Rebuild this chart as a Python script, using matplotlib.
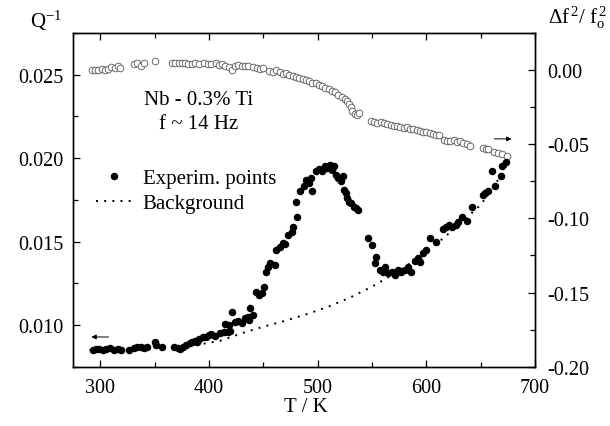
import matplotlib
matplotlib.use('Agg')
import matplotlib.pyplot as plt
from matplotlib.ticker import MultipleLocator, FormatStrFormatter

plt.rcParams['font.family'] = ['Liberation Serif', 'DejaVu Serif']
plt.rcParams['mathtext.fontset'] = 'custom'
plt.rcParams['mathtext.rm'] = 'Liberation Serif'
plt.rcParams['mathtext.it'] = 'Liberation Serif'
plt.rcParams['mathtext.default'] = 'regular'

# internal friction Q^-1 vs temperature (left axis)
T_q = [293, 296, 299, 302, 305, 309, 312, 316, 319,
       326, 331, 334, 337, 340, 343, 350, 351, 357,
       368, 371, 373, 376, 379, 382, 384, 387, 389, 391, 394, 397, 400, 402, 405,
       410, 414, 417, 419, 415, 418, 421, 424, 427, 430, 433, 436, 438, 437, 440,
       443, 446, 449, 451, 452, 454, 456, 461, 462, 465, 468, 470, 473, 476, 477,
       481, 480, 484, 487, 489, 492, 495, 494, 498, 501, 504, 507, 509, 511, 513,
       515, 517, 519, 521, 523, 524, 526, 527, 529, 531, 533, 535, 537,
       546, 550, 554, 553, 557, 560, 562, 565, 568, 571, 574, 577, 580, 583, 586,
       590, 592, 594, 597, 600, 603, 609, 615, 618, 621, 624, 627, 629, 633, 637,
       642, 652, 654, 657, 660, 663, 669, 670, 673]
Q = [.00852, .00858, .00855, .00850, .00856, .00860, .00853, .00858, .00850,
     .00848, .00865, .00870, .00868, .00862, .00866, .00895, .00880, .00868,
     .00868, .00862, .00855, .00870, .00880, .00890, .00895, .00905, .00900, .00915, .00925, .00930, .00940, .00945, .00935,
     .00950, .00960, .00955, .00965, .01005, .01000, .01080, .01015, .01025, .01010, .01040, .01050, .01100, .01030, .01060,
     .01195, .01180, .01190, .01230, .01320, .01350, .01370, .01360, .01450, .01470, .01490, .01485, .01540, .01560, .01590,
     .01650, .01740, .01800, .01830, .01870, .01850, .01800, .01880, .01920, .01935, .01925, .01955, .01940, .01960, .01930,
     .01950, .01900, .01880, .01860, .01890, .01810, .01790, .01760, .01740, .01730, .01710, .01700, .01690,
     .01520, .01480, .01410, .01370, .01330, .01320, .01345, .01310, .01320, .01300, .01330, .01315, .01330, .01345, .01320,
     .01385, .01400, .01380, .01430, .01450, .01520, .01500, .01575, .01590, .01600, .01585, .01600, .01620, .01650, .01625,
     .01710, .01780, .01790, .01800, .01920, .01830, .01890, .01950, .01975]

# background curve
T_bg = [290, 310, 330, 350, 370, 390, 410, 430, 450, 470, 490, 510, 530,
        550, 570, 590, 610, 630, 650, 660, 670, 676]
Q_bg = [.00850, .00852, .00856, .00862, .00870, .00882, .00905, .00950, .00990,
        .01025, .01065, .01110, .01165, .01230, .01305, .01390, .01490, .01600,
        .01720, .01810, .01910, .01980]

# modulus defect (right axis)
T_f = [292, 295, 298, 301, 304, 307, 310, 313, 316, 318,
       331, 334, 337, 340, 350,
       366, 369, 372, 375, 378, 381, 384, 387, 391, 395, 399, 402, 406, 409, 412,
       415, 418, 421, 424, 427, 430, 433, 436, 440, 444, 447, 450,
       455, 459, 462, 465, 468, 471, 474, 477, 480, 483, 486, 489, 492, 495, 498,
       501, 504, 507, 510, 513, 516, 519, 522, 525, 527, 529, 531, 532, 534, 536, 538,
       549, 552, 555, 558, 561, 564, 567, 570, 573, 576, 579, 582, 585, 588, 591,
       594, 597, 600, 603, 606, 609, 612, 616, 619, 622, 625, 628, 631, 634, 637, 640,
       652, 655, 657, 662, 666, 670, 674]
D = [.0000, .0002, .0000, .0005, .0002, .0010, .0020, .0015, .0025, .0012,
     .0040, .0045, .0030, .0045, .0060,
     .0045, .0048, .0050, .0046, .0050, .0044, .0040, .0045, .0042, .0045, .0040, .0044, .0046, .0036, .0040,
     .0030, .0020, .0000, .0030, .0032, .0030, .0025, .0028, .0020, .0015, .0010, .0012,
     -.0005, -.0010, -.0002, -.0015, -.0025, -.0020, -.0035, -.0040, -.0045, -.0055, -.0060, -.0065, -.0075, -.0085, -.0090,
     -.0100, -.0110, -.0120, -.0130, -.0140, -.0150, -.0165, -.0180, -.0195, -.0210, -.0230, -.0250, -.0275, -.0295, -.0300, -.0290,
     -.0345, -.0350, -.0355, -.0350, -.0360, -.0365, -.0370, -.0375, -.0380, -.0385, -.0390, -.0385, -.0395, -.0400, -.0405,
     -.0410, -.0415, -.0420, -.0425, -.0430, -.0435, -.0440, -.0470, -.0475, -.0480, -.0470, -.0485, -.0480, -.0490, -.0500, -.0510,
     -.0525, -.0535, -.0530, -.0550, -.0560, -.0565, -.0580]

fig = plt.figure(figsize=(6.1, 4.27), dpi=100)
ax = fig.add_axes([0.1202, 0.1389, 0.7568, 0.7815])
ax2 = ax.twinx()

ax2.plot(T_f, D, 'o', ms=4.8, mfc='white', mec='#555555', mew=0.6, zorder=2)
bg, = ax.plot(T_bg, Q_bg, color='black', lw=1.4, linestyle=(0, (1, 3.2)), zorder=3)
pts, = ax.plot(T_q, Q, 'o', ms=4.4, color='black', zorder=4)
ax.set_zorder(ax2.get_zorder() + 1)
ax.patch.set_visible(False)

ax.set_xlim(275, 700)
ax.set_ylim(0.0075, 0.0275)
ax2.set_ylim(-0.20, 0.025)

ax.xaxis.set_major_locator(MultipleLocator(100))
ax.xaxis.set_minor_locator(MultipleLocator(50))
ax.yaxis.set_major_locator(MultipleLocator(0.005))
ax.yaxis.set_minor_locator(MultipleLocator(0.0025))
ax2.yaxis.set_major_locator(MultipleLocator(0.05))
ax2.yaxis.set_minor_locator(MultipleLocator(0.025))
ax.yaxis.set_major_formatter(FormatStrFormatter('%.3f'))
ax2.yaxis.set_major_formatter(FormatStrFormatter('%.2f'))

ax.tick_params(axis='x', which='both', direction='in', top=True, labelsize=14.5, pad=8)
ax.tick_params(axis='y', which='both', direction='in', labelsize=14.5, pad=7)
ax.tick_params(which='major', length=5, width=0.9)
ax.tick_params(which='minor', length=3.5, width=0.9)
ax2.tick_params(axis='y', which='both', direction='in', labelsize=14.5, pad=9, width=0.9)
ax2.tick_params(which='major', length=5)
ax2.tick_params(which='minor', length=3.5)
for a in (ax, ax2):
    for s in a.spines.values():
        s.set_linewidth(1.0)

fig.text(0.075, 0.952, r'Q$^{-1}$', fontsize=15, ha='center', va='center')
fig.text(0.947, 0.958, r'$\Delta$f$^{\,2}$/ f$_{\rm o}^{\,2}$', fontsize=15, ha='center', va='center')
fig.text(0.502, 0.046, 'T / K', fontsize=15, ha='center', va='center')

ax.text(390, 0.0235, 'Nb - 0.3% Ti', fontsize=15, ha='center', va='center')
ax.text(390, 0.0221, 'f ~ 14 Hz', fontsize=15, ha='center', va='center')

ax.legend([pts, bg], ['Experim. points', 'Background'], loc='upper left',
          bbox_to_anchor=(0.026, 0.625), frameon=False, fontsize=15,
          handlelength=1.8, handletextpad=0.45, borderpad=0.2, labelspacing=0.25,
          borderaxespad=0.3)

ax.annotate('', xy=(289, 0.00928), xytext=(310, 0.00928),
            arrowprops=dict(arrowstyle='-|>', lw=0.7, color='black', mutation_scale=7))
ax2.annotate('', xy=(681, -0.0464), xytext=(660, -0.0464),
             arrowprops=dict(arrowstyle='-|>', lw=0.7, color='black', mutation_scale=7))

plt.savefig('out.png', dpi=100)
